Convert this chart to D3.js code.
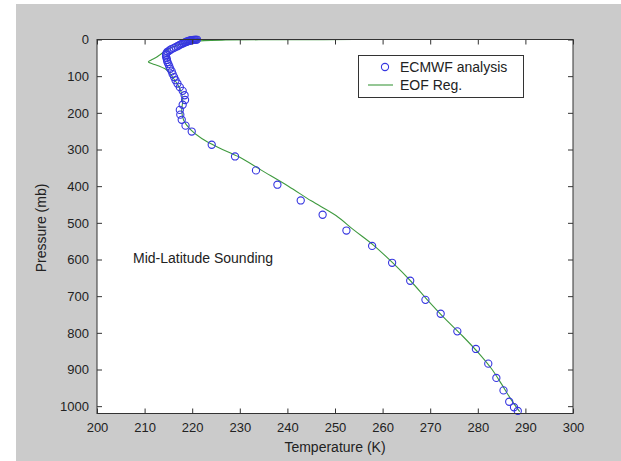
<!DOCTYPE html>
<html>
<head>
<meta charset="utf-8">
<script src="https://cdn.jsdelivr.net/npm/d3@7"></script>
<style>
  html, body { margin: 0; padding: 0; background: #ffffff; }
  svg { display: block; }
  text { font-family: "Liberation Sans", Arial, sans-serif; fill: #222; }
</style>
</head>
<body>
<svg id="chart" width="621" height="461"></svg>
<script>
// ECMWF analysis: pressure (mb) and temperature (K)
const ecmwfPressure = [0.1, 0.3, 0.5, 0.8, 1.2, 1.6, 2.1, 2.7, 3.4, 4.2, 5.1, 6.1, 7.3, 8.7, 10.2, 11.9, 13.8, 15.9, 18.3, 20.8, 23.6, 26.6, 30, 33.5, 37.3, 41.5, 45.9, 50.7, 55.8, 61.3, 67.1, 73.3, 80, 87, 94.5, 102.5, 111, 120, 130, 140, 152, 165, 178, 192, 205, 219, 235, 251, 287, 319, 357, 396, 439, 478, 521, 563, 609, 658, 710, 748, 796, 844, 884, 923, 957, 988, 1003, 1013];
const ecmwfTemp = [221.0, 220.8, 220.6, 220.4, 220.2, 220.0, 219.8, 219.6, 219.4, 219.2, 219.0, 218.8, 218.6, 218.4, 218.1, 217.8, 217.5, 217.2, 216.9, 216.5, 216.1, 215.6, 215.2, 214.8, 214.6, 214.5, 214.5, 214.6, 214.7, 214.8, 215.0, 215.2, 215.4, 215.7, 215.9, 216.2, 216.5, 216.9, 217.4, 218.0, 218.4, 218.5, 218.0, 217.4, 217.5, 217.8, 218.6, 219.9, 224.1, 229.0, 233.4, 237.9, 242.8, 247.4, 252.4, 257.8, 262.0, 265.8, 269.0, 272.2, 275.7, 279.6, 282.2, 283.9, 285.4, 286.6, 287.6, 288.4];

// EOF regression retrieval
const eofPressure = [0, 0.4, 0.8, 1.5, 3, 6, 10, 15, 20, 27, 35, 42, 50, 56, 61, 66, 72, 80, 90, 105, 120, 140, 165, 195, 220, 245, 270, 295, 320, 357, 400, 440, 480, 520, 560, 610, 660, 710, 760, 810, 860, 900, 940, 980, 1015];
const eofTemp = [254, 243, 234, 227, 222.5, 219.8, 218.3, 217.0, 216.0, 214.9, 213.9, 213.2, 212.3, 211.4, 210.8, 211.6, 213.0, 214.3, 215.2, 216.0, 216.8, 217.6, 218.0, 217.8, 218.2, 219.6, 222.0, 225.6, 229.8, 234.6, 240.2, 245.0, 250.2, 254.0, 258.0, 262.2, 266.0, 269.4, 273.0, 276.9, 280.5, 283.0, 285.0, 286.9, 288.8];

const xTicks = [200, 210, 220, 230, 240, 250, 260, 270, 280, 290, 300];
const yTicks = [0, 100, 200, 300, 400, 500, 600, 700, 800, 900, 1000];
const seriesNames = ["ECMWF analysis", "EOF Reg."];
const annotation = "Mid-Latitude Sounding";
const xLabel = "Temperature (K)";
const yLabel = "Pressure (mb)";

const svg = d3.select("#chart");
const pL = 97, pR = 573, pT = 39.5, pB = 413.5;

// figure background
svg.append("rect").attr("x", 16).attr("y", 4).attr("width", 605).attr("height", 457).attr("fill", "#cbcbcb");
// axes background
svg.append("rect").attr("x", pL).attr("y", pT).attr("width", pR - pL).attr("height", pB - pT).attr("fill", "#ffffff");

const x = d3.scaleLinear().domain([200, 300]).range([pL, pR]);
const y = d3.scaleLinear().domain([0, 1020]).range([pT, pB]);

svg.append("clipPath").attr("id", "plotclip").append("rect")
  .attr("x", pL - 6).attr("y", pT - 4).attr("width", pR - pL + 12).attr("height", pB - pT + 8);

const plot = svg.append("g").attr("clip-path", "url(#plotclip)");

// EOF line
const eofData = eofPressure.map((p, i) => ({ p, t: eofTemp[i] }));
const lineGen = d3.line().x(d => x(d.t)).y(d => y(d.p)).curve(d3.curveCatmullRom.alpha(0.5));
plot.append("path")
  .datum(eofData)
  .attr("fill", "none")
  .attr("stroke", "#3f9a3f")
  .attr("stroke-width", 1.1)
  .attr("d", lineGen);

// ECMWF circles
const ecData = ecmwfPressure.map((p, i) => ({ p, t: ecmwfTemp[i] }));
plot.selectAll("circle.ec").data(ecData).enter().append("circle")
  .attr("class", "ec")
  .attr("cx", d => x(d.t)).attr("cy", d => y(d.p)).attr("r", 3.6)
  .attr("fill", "none").attr("stroke", "#3636e0").attr("stroke-width", 1.1);

// axes (ticks inward on all four sides)
const fontSize = "13px";
const xAxisB = svg.append("g").attr("transform", `translate(0,${pB})`)
  .call(d3.axisBottom(x).tickValues(xTicks).tickSizeInner(-5).tickSizeOuter(0).tickPadding(9).tickFormat(d3.format("d")));
const xAxisT = svg.append("g").attr("transform", `translate(0,${pT})`)
  .call(d3.axisTop(x).tickValues(xTicks).tickSizeInner(-5).tickSizeOuter(0).tickFormat(""));
const yAxisL = svg.append("g").attr("transform", `translate(${pL},0)`)
  .call(d3.axisLeft(y).tickValues(yTicks).tickSizeInner(-5).tickSizeOuter(0).tickPadding(8).tickFormat(d3.format("d")));
const yAxisR = svg.append("g").attr("transform", `translate(${pR},0)`)
  .call(d3.axisRight(y).tickValues(yTicks).tickSizeInner(-5).tickSizeOuter(0).tickFormat(""));

[xAxisB, xAxisT, yAxisL, yAxisR].forEach(g => {
  g.select(".domain").remove();
  g.selectAll(".tick line").attr("stroke", "#333");
  g.selectAll(".tick text").style("font-size", fontSize).attr("fill", "#222")
    .style("font-family", '"Liberation Sans", Arial, sans-serif');
});

// frame
svg.append("rect").attr("x", pL).attr("y", pT).attr("width", pR - pL).attr("height", pB - pT)
  .attr("fill", "none").attr("stroke", "#333").attr("stroke-width", 1);

// axis labels
svg.append("text").attr("x", (pL + pR) / 2).attr("y", 452).attr("text-anchor", "middle")
  .style("font-size", "14px").text(xLabel);
svg.append("text").attr("transform", "translate(46,228) rotate(-90)").attr("text-anchor", "middle")
  .style("font-size", "14px").text(yLabel);

// annotation
svg.append("text").attr("x", 133).attr("y", 263).style("font-size", "14px").text(annotation);

// legend
const lg = svg.append("g");
lg.append("rect").attr("x", 358.5).attr("y", 55.5).attr("width", 165).attr("height", 42)
  .attr("fill", "#ffffff").attr("stroke", "#333").attr("stroke-width", 1);
lg.append("circle").attr("cx", 385).attr("cy", 67).attr("r", 3.6)
  .attr("fill", "none").attr("stroke", "#3636e0").attr("stroke-width", 1.1);
lg.append("line").attr("x1", 368).attr("x2", 393).attr("y1", 85).attr("y2", 85)
  .attr("stroke", "#3f9a3f").attr("stroke-width", 1.1);
lg.append("text").attr("x", 400).attr("y", 72).style("font-size", "14px").text(seriesNames[0]);
lg.append("text").attr("x", 400).attr("y", 90).style("font-size", "14px").text(seriesNames[1]);
</script>
</body>
</html>
